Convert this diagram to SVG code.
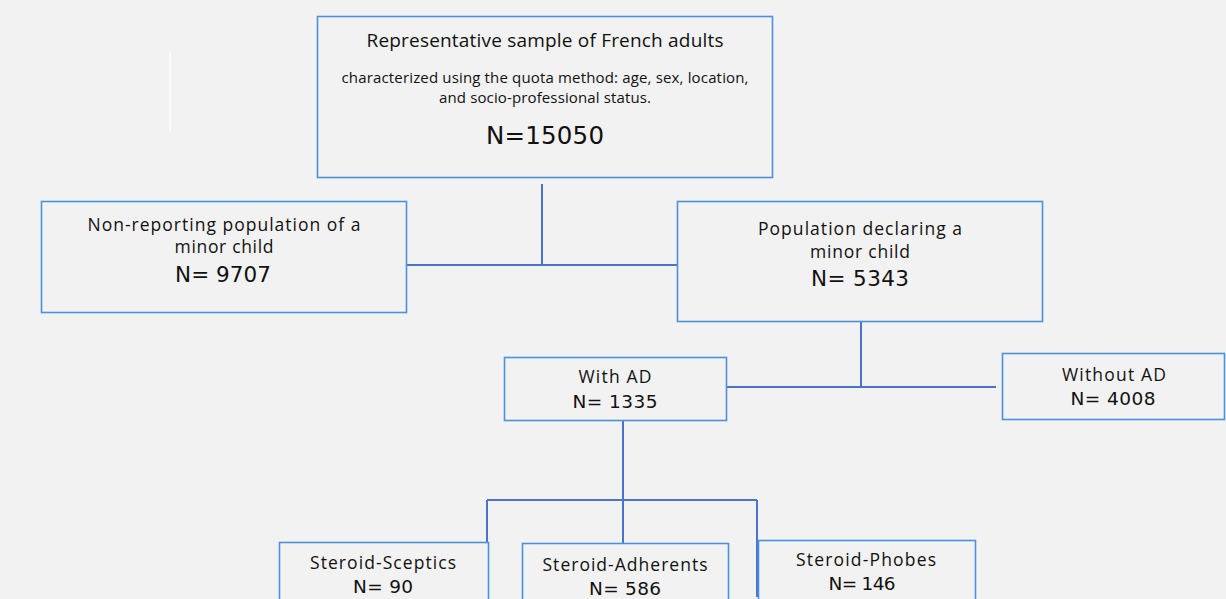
<svg xmlns="http://www.w3.org/2000/svg" width="1226" height="599" viewBox="0 0 1226 599">
<style>
.bg{fill:#f2f2f2}
.box{fill:#f2f2f2;stroke:#4a92dc;stroke-width:1.6}
.c{fill:none;stroke:#4a74c9;stroke-width:2}
text{font-family:"Open Sans","Liberation Sans",sans-serif;fill:#111;text-anchor:middle}
.num{font-family:"DejaVu Sans","Liberation Sans",sans-serif}
.t{font-size:19px}
.w{font-size:17.5px}
.s{font-size:15px}
.n{font-size:21.5px}
.big{font-size:24.5px}
.m{font-size:17.5px}
.mn{font-size:18.5px}
</style>
<rect class="bg" x="0" y="0" width="1226" height="599"/>
<line x1="170" y1="51" x2="170" y2="132" stroke="#ffffff" stroke-width="1"/>
<line x1="763" y1="51" x2="763" y2="132" stroke="#ffffff" stroke-width="1"/>
<g id="connectors">
<path class="c" d="M542 184V265M406 265H677"/>
<path class="c" d="M861 307V387M726 387H996"/>
<path class="c" d="M623 420V543M487 500H757M487 500V542M757 500V597"/>
</g>
<g id="top">
<rect class="box" x="317.5" y="16.5" width="455" height="161"/>
<text class="t" x="545" y="47" textLength="357">Representative sample of French adults</text>
<text class="s" x="545" y="83" textLength="407">characterized using the quota method: age, sex, location,</text>
<text class="s" x="545" y="103" textLength="212">and socio-professional status.</text>
<text class="big num" x="545" y="144" textLength="118">N=15050</text>
</g>
<g id="nonreporting">
<rect class="box" x="41.5" y="201.5" width="365" height="111"/>
<text class="w" x="224" y="231" textLength="273">Non-reporting population of a</text>
<text class="w" x="224" y="253" textLength="99">minor child</text>
<text class="n num" x="223" y="282" textLength="96">N= 9707</text>
</g>
<g id="declaring">
<rect class="box" x="677.5" y="201.5" width="365" height="120"/>
<text class="w" x="860" y="235" textLength="204">Population declaring a</text>
<text class="w" x="860" y="258" textLength="100">minor child</text>
<text class="n num" x="860" y="286" textLength="98">N= 5343</text>
</g>
<g id="withad">
<rect class="box" x="504.5" y="357.5" width="222" height="63"/>
<text class="m" x="615" y="383" textLength="73">With AD</text>
<text class="mn num" x="615" y="408" textLength="85">N= 1335</text>
</g>
<g id="withoutad">
<rect class="box" x="1002.5" y="353.5" width="222" height="66"/>
<text class="m" x="1114" y="381" textLength="104">Without AD</text>
<text class="mn num" x="1113" y="405" textLength="85">N= 4008</text>
</g>
<g id="sceptics">
<rect class="box" x="279.5" y="542.5" width="209" height="70"/>
<text class="m" x="383" y="569" textLength="146">Steroid-Sceptics</text>
<text class="mn num" x="383" y="593" textLength="60">N= 90</text>
</g>
<g id="adherents">
<rect class="box" x="522.5" y="543.5" width="206" height="70"/>
<text class="m" x="625" y="571" textLength="165">Steroid-Adherents</text>
<text class="mn num" x="625" y="595" textLength="72">N= 586</text>
</g>
<g id="phobes">
<rect class="box" x="758.5" y="540.5" width="217" height="70"/>
<text class="m" x="866" y="566" textLength="140">Steroid-Phobes</text>
<text class="mn num" x="862" y="590" textLength="67">N= 146</text>
</g>
</svg>
